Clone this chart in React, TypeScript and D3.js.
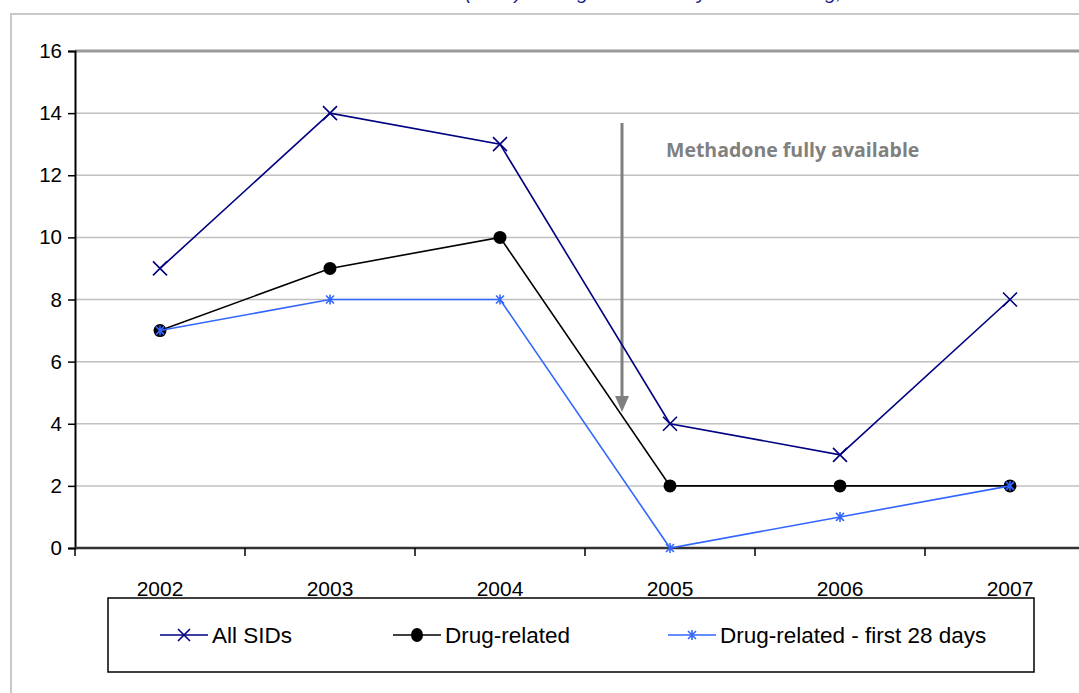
import { useEffect, useRef } from 'react'
import * as d3 from 'd3'

const years = ['2002', '2003', '2004', '2005', '2006', '2007']
const allSids = [9, 14, 13, 4, 3, 8]
const drugRelated = [7, 9, 10, 2, 2, 2]
const first28Days = [7, 8, 8, 0, 1, 2]
const yTicks = [0, 2, 4, 6, 8, 10, 12, 14, 16]
const seriesNames = ['All SIDs', 'Drug-related', 'Drug-related - first 28 days']
const titleText = '(SIDs) among newborns by maternal drug, 2002\u20132007'
const noteText = 'Methadone fully available'

const W = 1079
const H = 693
const FONT = 'Arial, "Liberation Sans", sans-serif'

export default function App() {
  const svgRef = useRef<SVGSVGElement | null>(null)

  useEffect(() => {
    const svg = d3.select(svgRef.current)
    svg.selectAll('*').remove()

    const plot = { left: 75, top: 51, bottom: 548, band: 170 }

    // ================= SCALES =================
    const x = d3
      .scaleBand<string>()
      .domain(years)
      .range([plot.left, plot.left + plot.band * years.length])
    const cx = (d: string) => (x(d) as number) + x.bandwidth() / 2
    const y = d3.scaleLinear().domain([0, 16]).range([plot.bottom, plot.top])

    // ================= FRAME + TITLE =================
    // title sits above the crop, only its descenders show
    svg
      .append('text')
      .attr('x', 465)
      .attr('y', -1)
      .attr('fill', '#1a1a8c')
      .attr('font-family', FONT)
      .attr('font-style', 'italic')
      .attr('font-size', 20)
      .text(titleText)

    svg
      .append('path')
      .attr('d', `M${W + 5},14 H11 V${H + 5}`)
      .attr('fill', 'none')
      .attr('stroke', '#c8c8c8')
      .attr('stroke-width', 2)

    // ================= GRID =================
    svg
      .append('g')
      .selectAll('line')
      .data(yTicks.filter((t) => t > 0 && t < 16))
      .join('line')
      .attr('x1', plot.left)
      .attr('x2', W)
      .attr('y1', (d) => y(d))
      .attr('y2', (d) => y(d))
      .attr('stroke', '#c0c0c0')
      .attr('stroke-width', 1.5)

    svg
      .append('line')
      .attr('x1', plot.left)
      .attr('x2', W)
      .attr('y1', y(16))
      .attr('y2', y(16))
      .attr('stroke', '#999')
      .attr('stroke-width', 3)

    // ================= AXES =================
    const yAxis = svg
      .append('g')
      .attr('transform', `translate(${plot.left},0)`)
      .call(d3.axisLeft(y).tickValues(yTicks).tickSize(7).tickPadding(6))
    yAxis.select('.domain').attr('stroke', '#000').attr('stroke-width', 2)
    yAxis.selectAll('.tick line').attr('stroke', '#000').attr('stroke-width', 1.5)
    yAxis
      .selectAll('.tick text')
      .attr('font-family', FONT)
      .attr('font-size', 20.5)
      .attr('fill', '#000')

    const xAxisG = svg.append('g').attr('transform', `translate(0,${plot.bottom})`)
    xAxisG
      .append('line')
      .attr('x1', plot.left)
      .attr('x2', W)
      .attr('stroke', '#333')
      .attr('stroke-width', 2.5)
    const bounds = d3.range(years.length + 1).map((i) => plot.left + i * plot.band)
    xAxisG
      .selectAll('.xt')
      .data(bounds)
      .join('line')
      .attr('class', 'xt')
      .attr('x1', (d) => d)
      .attr('x2', (d) => d)
      .attr('y1', 0)
      .attr('y2', 8)
      .attr('stroke', '#000')
      .attr('stroke-width', 1.5)
    xAxisG
      .selectAll('.xl')
      .data(years)
      .join('text')
      .attr('class', 'xl')
      .attr('x', cx)
      .attr('y', 48)
      .attr('text-anchor', 'middle')
      .attr('font-family', FONT)
      .attr('font-size', 21)
      .text((d) => d)

    // ================= ANNOTATION =================
    svg
      .append('line')
      .attr('x1', 622)
      .attr('x2', 622)
      .attr('y1', 123)
      .attr('y2', 398)
      .attr('stroke', '#808080')
      .attr('stroke-width', 3)
    svg
      .append('path')
      .attr('d', 'M615,396 L629,396 L622,412 Z')
      .attr('fill', '#808080')
    svg
      .append('text')
      .attr('x', 666)
      .attr('y', 157)
      .attr('fill', '#808080')
      .attr('font-family', '"Open Sans", sans-serif')
      .attr('font-weight', 'bold')
      .attr('font-size', 19.5)
      .text(noteText)

    // ================= SERIES =================
    const line = d3
      .line<number>()
      .x((_, i) => cx(years[i]))
      .y((d) => y(d))

    const g1 = svg.append('g')
    g1.append('path').attr('d', line(allSids)).attr('fill', 'none').attr('stroke', '#000080').attr('stroke-width', 1.6)
    g1.selectAll('.mx')
      .data(allSids)
      .join('path')
      .attr('class', 'mx')
      .attr('d', (d, i) => {
        const px = cx(years[i])
        const py = y(d)
        const s = 7
        return `M${px - s},${py - s}L${px + s},${py + s}M${px - s},${py + s}L${px + s},${py - s}`
      })
      .attr('stroke', '#000080')
      .attr('stroke-width', 1.6)

    const g2 = svg.append('g')
    g2.append('path').attr('d', line(drugRelated)).attr('fill', 'none').attr('stroke', '#000').attr('stroke-width', 1.6)
    g2.selectAll('circle')
      .data(drugRelated)
      .join('circle')
      .attr('cx', (_, i) => cx(years[i]))
      .attr('cy', (d) => y(d))
      .attr('r', 6.5)
      .attr('fill', '#000')

    const g3 = svg.append('g')
    g3.append('path').attr('d', line(first28Days)).attr('fill', 'none').attr('stroke', '#3366ff').attr('stroke-width', 1.6)
    g3.selectAll('.ms')
      .data(first28Days)
      .join('path')
      .attr('class', 'ms')
      .attr('d', (d, i) => {
        const px = cx(years[i])
        const py = y(d)
        const s = 4
        return `M${px - s},${py - s}L${px + s},${py + s}M${px - s},${py + s}L${px + s},${py - s}M${px},${py - s - 1}L${px},${py + s + 1}`
      })
      .attr('stroke', '#3366ff')
      .attr('stroke-width', 1.6)

    // ================= LEGEND =================
    const lg = svg.append('g')
    lg.append('rect')
      .attr('x', 108)
      .attr('y', 598)
      .attr('width', 926)
      .attr('height', 74)
      .attr('fill', '#fff')
      .attr('stroke', '#000')
      .attr('stroke-width', 1.5)
    const entries = [
      { x: 160, color: '#000080', kind: 'x' },
      { x: 393, color: '#000', kind: 'dot' },
      { x: 668, color: '#3366ff', kind: 'star' },
    ]
    const ly = 635
    entries.forEach((e, i) => {
      const mx = e.x + 24
      lg.append('line').attr('x1', e.x).attr('x2', e.x + 48).attr('y1', ly).attr('y2', ly).attr('stroke', e.color).attr('stroke-width', 1.6)
      if (e.kind === 'x') {
        lg.append('path').attr('d', `M${mx - 6},${ly - 6}L${mx + 6},${ly + 6}M${mx - 6},${ly + 6}L${mx + 6},${ly - 6}`).attr('stroke', e.color).attr('stroke-width', 1.6)
      } else if (e.kind === 'dot') {
        lg.append('ellipse').attr('cx', mx).attr('cy', ly).attr('rx', 6).attr('ry', 7).attr('fill', e.color)
      } else {
        lg.append('path').attr('d', `M${mx - 4},${ly - 4}L${mx + 4},${ly + 4}M${mx - 4},${ly + 4}L${mx + 4},${ly - 4}M${mx},${ly - 5}L${mx},${ly + 5}`).attr('stroke', e.color).attr('stroke-width', 1.6)
      }
      lg.append('text')
        .attr('x', e.x + 52)
        .attr('y', ly + 8)
        .attr('font-family', FONT)
        .attr('font-size', 22.5)
        .text(seriesNames[i])
    })
  }, [])

  return (
    <svg
      ref={svgRef}
      width={W}
      height={H}
      style={{ position: 'absolute', left: 0, top: 0, background: '#fff' }}
    />
  )
}
